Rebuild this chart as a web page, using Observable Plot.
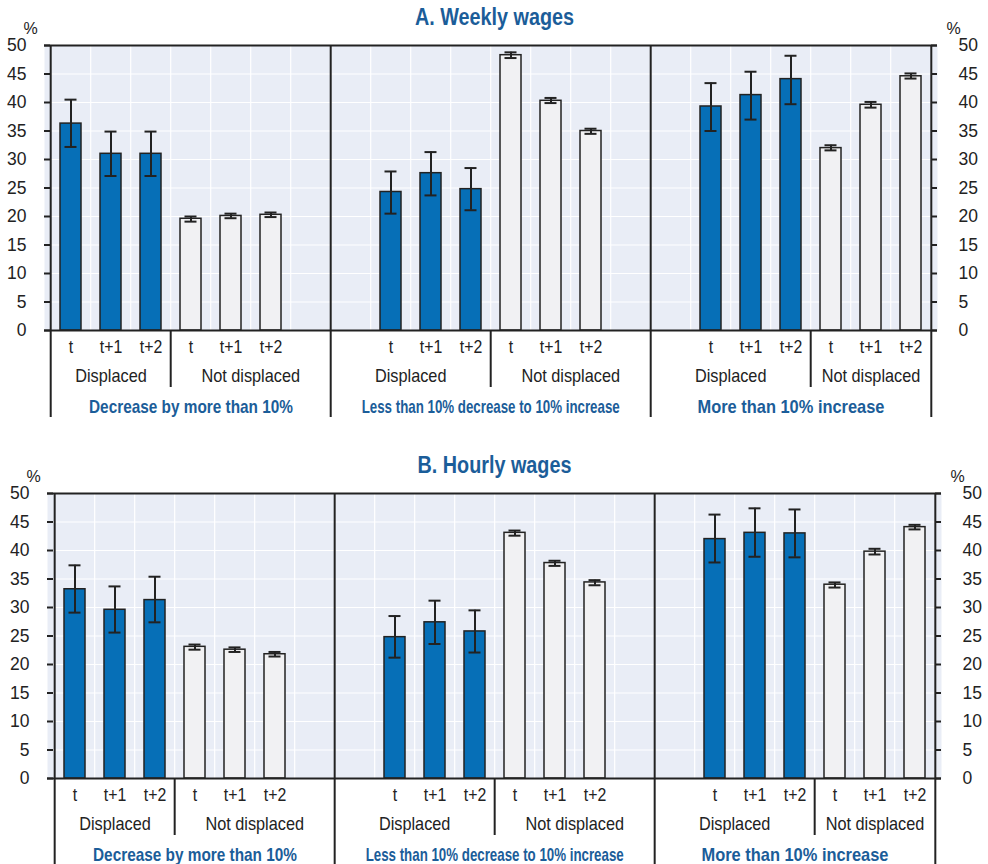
<!DOCTYPE html>
<html><head><meta charset="utf-8">
<script src="https://cdn.jsdelivr.net/npm/d3@7"></script>
<script src="https://cdn.jsdelivr.net/npm/@observablehq/plot@0.6"></script>
<style>
html,body{margin:0;padding:0;background:#fff;overflow:hidden;}
#root{position:relative;width:988px;height:864px;overflow:hidden;font-family:"Liberation Sans",Arial,sans-serif;}
.title{position:absolute;left:0;width:988px;text-align:center;font-weight:bold;font-size:23px;color:#1b5d99;line-height:34px;height:34px;z-index:2;}
.title span{display:inline-block;transform:scaleX(0.86);transform-origin:center;}
.panel{position:absolute;left:0;}
</style></head><body><div id="root"></div>
<script>
// ---- data ----
const groups = ["Decrease by more than 10%", "Less than 10% decrease to 10% increase", "More than 10% increase"];
const statuses = ["Displaced", "Not displaced"];
const periods = ["t", "t+1", "t+2"];
const yTicks = [0, 5, 10, 15, 20, 25, 30, 35, 40, 45, 50];
const panelTitles = ["A. Weekly wages", "B. Hourly wages"];
// order: group -> status -> period
const weeklyValue = [36.3, 31.0, 31.0, 19.6, 20.1, 20.3,  24.3, 27.6, 24.8, 48.3, 40.3, 35.0,  39.3, 41.3, 44.1, 32.0, 39.6, 44.6];
const weeklyLow   = [32.2, 27.1, 27.1, 19.1, 19.7, 19.9,  20.5, 23.7, 21.1, 47.8, 39.9, 34.5,  35.0, 37.0, 39.7, 31.6, 39.1, 44.2];
const weeklyHigh  = [40.5, 34.9, 34.9, 20.0, 20.5, 20.7,  27.9, 31.3, 28.5, 48.8, 40.8, 35.4,  43.4, 45.4, 48.2, 32.5, 40.1, 45.1];
const hourlyValue = [33.2, 29.6, 31.3, 23.1, 22.6, 21.8,  24.8, 27.4, 25.8, 43.1, 37.8, 34.4,  42.0, 43.1, 43.0, 34.0, 39.8, 44.1];
const hourlyLow   = [29.1, 25.6, 27.4, 22.6, 22.2, 21.4,  21.2, 23.6, 22.1, 42.6, 37.3, 33.9,  37.9, 38.9, 38.8, 33.5, 39.3, 43.7];
const hourlyHigh  = [37.4, 33.7, 35.4, 23.5, 23.0, 22.2,  28.5, 31.2, 29.5, 43.5, 38.2, 34.8,  46.3, 47.4, 47.2, 34.4, 40.3, 44.5];

// ---- layout / style ----
const BLUE = "#066fb7", LIGHT = "#f1f1f3", BG = "#e9edf6", DARK = "#222", TXT = "#222", TBLUE = "#1b5d99";
const FONT = '"Liberation Sans",Arial,sans-serif';
const GROUP_LABEL_WIDTHS = [204, 258, 187];
const NARROW = 0.88;

const keyOf = (g, s, p) => `${g}|${s}|${p}`;
const slots = [];
const panelStart = [], subDiv = [];
groups.forEach((g, gi) => {
  panelStart.push(slots.length);
  if (gi > 0) slots.push(`gap-before-${gi}`);
  statuses.forEach((s, si) => periods.forEach(p => {
    if (si === 1 && p === periods[0]) subDiv.push(slots.length);
    slots.push(keyOf(g, s, p));
  }));
  if (gi < groups.length - 1) slots.push(`gap-after-${gi}`);
});
panelStart.push(slots.length);

function rowsFor(values, low, high) {
  const rows = [];
  let i = 0;
  groups.forEach(g => statuses.forEach(s => periods.forEach(p => {
    rows.push({key: keyOf(g, s, p), group: g, status: s, period: p, value: values[i], low: low[i], high: high[i]});
    i++;
  })));
  return rows;
}

function makePanel(values, low, high, title, top, ml, mr) {
  const W = 988, H = 420, mt = 45, mb = 90;
  const step = (W - ml - mr) / slots.length;
  const pw = W - ml - mr;
  const at = f => { let k = Math.round(f); k = Math.max(0, Math.min(slots.length - 1, k)); return {key: slots[k], dx: (f - k) * step}; };
  const rows = rowsFor(values, low, high);
  const marks = [];
  marks.push(Plot.frame({fill: BG}));
  marks.push(Plot.ruleY(yTicks, {stroke: "#fff", strokeWidth: 1.2}));
  for (let i = 1; i < slots.length; i++) {
    const a = at(i - 0.5);
    marks.push(Plot.ruleX([a.key], {dx: a.dx, stroke: "#fff", strokeWidth: 1.2}));
  }
  marks.push(Plot.barY(rows, {x: "key", y: "value", fill: d => d.status === statuses[0] ? BLUE : LIGHT, stroke: DARK, strokeWidth: 1.5}));
  marks.push(Plot.ruleX(rows, {x: "key", y1: "low", y2: "high", stroke: DARK, strokeWidth: 2}));
  marks.push(Plot.tickY(rows, {x: "key", y: "low", stroke: DARK, strokeWidth: 2, inset: 4.5}));
  marks.push(Plot.tickY(rows, {x: "key", y: "high", stroke: DARK, strokeWidth: 2, inset: 4.5}));
  marks.push(Plot.ruleY([50], {stroke: DARK, strokeWidth: 2}));
  marks.push(Plot.ruleY([0], {stroke: DARK, strokeWidth: 2.2}));
  marks.push(Plot.ruleY(yTicks, {stroke: DARK, strokeWidth: 2, insetRight: pw - 6}));
  marks.push(Plot.ruleY(yTicks, {stroke: DARK, strokeWidth: 2, insetLeft: pw - 6}));
  for (let p = 0; p <= groups.length; p++) {
    const a = at(panelStart[p] - 0.5);
    marks.push(Plot.ruleX([a.key], {dx: a.dx, stroke: DARK, strokeWidth: 2, insetBottom: -87}));
  }
  subDiv.forEach(si => {
    const a = at(si - 0.5);
    marks.push(Plot.ruleX([a.key], {dx: a.dx, y1: 0, y2: 0, stroke: DARK, strokeWidth: 2, insetBottom: -57}));
  });
  marks.push(Plot.text(rows, {x: "key", y: 0, text: "period", dy: 17, fill: TXT, fontSize: 18}));
  groups.forEach((g, gi) => {
    const bounds = [panelStart[gi] - 0.5, subDiv[gi] - 0.5, panelStart[gi + 1] - 0.5];
    statuses.forEach((s, si) => {
      const a = at((bounds[si] + bounds[si + 1]) / 2);
      marks.push(Plot.text([s], {x: [a.key], y: [0], dx: a.dx, dy: 46, text: [s], fill: TXT, fontSize: 18.5}));
    });
    const a = at((bounds[0] + bounds[2]) / 2);
    marks.push(Plot.text([g], {x: [a.key], y: [0], dx: a.dx, dy: 76, text: [g], fill: TBLUE, fontSize: 19, fontWeight: "bold"}));
  });
  marks.push(Plot.text(["%"], {frameAnchor: "top-left", textAnchor: "middle", lineAnchor: "middle", dx: -14, dy: -17, text: ["%"], fill: TXT, fontSize: 16}));
  marks.push(Plot.text(["%"], {frameAnchor: "top-right", textAnchor: "middle", lineAnchor: "middle", dx: 16, dy: -17, text: ["%"], fill: TXT, fontSize: 16}));
  marks.push(Plot.axisY({anchor: "left", ticks: yTicks, tickSize: 0, tickPadding: 18, fill: TXT, fontSize: 17.5}));
  marks.push(Plot.axisY({anchor: "right", ticks: yTicks, tickSize: 0, tickPadding: 21, fill: TXT, fontSize: 17.5}));

  const svg = Plot.plot({
    width: W, height: H,
    marginTop: mt, marginBottom: mb, marginLeft: ml, marginRight: mr,
    x: {domain: slots, paddingInner: 0.48, paddingOuter: 0.24, axis: null},
    y: {domain: [0, 50], axis: null},
    style: {fontFamily: FONT, fontSize: "17px", color: TXT, background: "transparent", overflow: "visible"},
    marks
  });
  const wrap = document.createElement("div");
  wrap.className = "panel";
  wrap.style.top = top + "px";
  wrap.appendChild(svg);
  const t = document.createElement("div");
  t.className = "title";
  t.style.top = top + "px";
  const sp = document.createElement("span");
  sp.textContent = title;
  t.appendChild(sp);
  const root = document.getElementById("root");
  root.appendChild(wrap);
  root.appendChild(t);
  // condensed look for category labels
  d3.select(svg).selectAll("text").each(function() {
    const txt = this.textContent;
    const gi = groups.indexOf(txt);
    if (gi >= 0) {
      this.setAttribute("textLength", GROUP_LABEL_WIDTHS[gi]);
      this.setAttribute("lengthAdjust", "spacingAndGlyphs");
    } else if (periods.includes(txt) || statuses.includes(txt)) {
      const len = this.getComputedTextLength();
      if (len > 0) {
        this.setAttribute("textLength", (len * NARROW).toFixed(1));
        this.setAttribute("lengthAdjust", "spacingAndGlyphs");
      }
    }
  });
}

makePanel(weeklyValue, weeklyLow, weeklyHigh, panelTitles[0], 0, 44, 51);
makePanel(hourlyValue, hourlyLow, hourlyHigh, panelTitles[1], 448, 47, 47);
</script></body></html>
